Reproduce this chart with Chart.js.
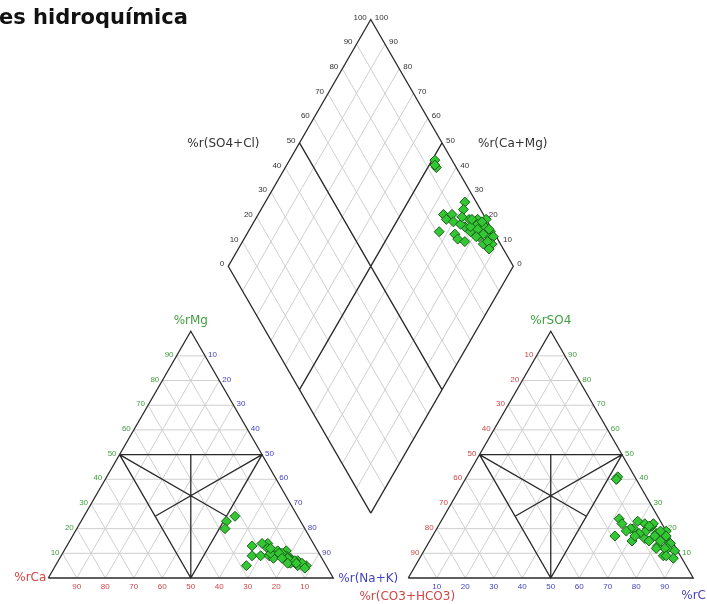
<!DOCTYPE html>
<html>
<head>
<meta charset="utf-8">
<script src="https://cdn.jsdelivr.net/npm/chart.js@4.4.0/dist/chart.umd.min.js"></script>
<style>
  html, body { margin: 0; padding: 0; background: #fff; overflow: hidden; }
  #wrap { position: relative; width: 707px; height: 604px; }
</style>
</head>
<body>
<div id="wrap"><canvas id="piper"></canvas></div>
<script>
/* ============================================================
   Diagrama de Piper — facies hidroquímica
   ============================================================ */

const TITLE = 'es hidroquímica';
const TICKS = [10, 20, 30, 40, 50, 60, 70, 80, 90];
const DIAMOND_TICKS = [0, 10, 20, 30, 40, 50, 60, 70, 80, 90, 100];

// one entry per sample, % of meq/L
const ca   = [16, 17, 22, 18, 24, 28, 21, 18, 14, 16, 11, 11, 12, 11, 9, 12, 9, 8, 10, 17, 13, 12, 13, 10, 7, 17, 12, 8, 14, 13, 8, 10, 14, 16, 22, 26, 28];
const mg   = [14, 12, 13, 14, 9, 5, 9, 9, 11, 9, 11, 8, 9, 7, 6, 6, 7, 5, 5, 8, 9, 8, 10, 7, 5, 10, 8, 6, 10, 6, 4, 6, 8, 12, 25, 23, 20];
const nak  = [70, 71, 65, 68, 67, 67, 70, 73, 75, 75, 78, 81, 79, 82, 85, 82, 84, 87, 85, 75, 78, 80, 77, 83, 88, 73, 80, 86, 76, 81, 88, 84, 78, 72, 53, 51, 52];
const hco3 = [4, 6, 14, 11, 14, 19, 12, 14, 9, 6, 3, 0, 4, 2, 1, 6, 3, 1, 6, 14, 8, 5, 7, 4, 3, 10, 2, 4, 5, 7, 5, 1, 12, 8, 7, 6, 7];
const so4  = [21, 22, 24, 20, 22, 17, 20, 19, 16, 20, 22, 19, 18, 16, 14, 13, 12, 11, 9, 15, 15, 17, 19, 15, 8, 18, 19, 12, 21, 12, 9, 17, 17, 23, 40, 41, 40];
const cl   = [75, 72, 62, 69, 64, 64, 68, 67, 75, 74, 75, 81, 78, 82, 85, 81, 85, 88, 85, 71, 77, 78, 74, 81, 89, 72, 79, 84, 74, 81, 86, 82, 71, 69, 53, 53, 53];

const COLORS = {
  green: '#3f9f3f',
  red:   '#d04545',
  blue:  '#4343c4',
  tick:  '#333',
  frame: '#2a2a2a',
  grid:  '#cfcfcf',
};

/* ── geometry (triangle side = 100 units) ── */
const SIN60 = Math.sqrt(3) / 2;
const GAP = 26.3;
const RIGHT_X0 = 100 + GAP;
const DIAMOND_BASE = { x: 100 + GAP / 2, y: GAP * SIN60 };

function cationXY(a, b, c) {
  const s = a + b + c;
  return { x: (c + b / 2) * 100 / s, y: b * SIN60 * 100 / s };
}
function anionXY(a, b, c) {
  const s = a + b + c;
  return { x: RIGHT_X0 + (c + b / 2) * 100 / s, y: b * SIN60 * 100 / s };
}
function diamondXY(caMg, so4Cl) {
  return {
    x: DIAMOND_BASE.x + (so4Cl - caMg) / 2,
    y: DIAMOND_BASE.y + (so4Cl + caMg) * SIN60
  };
}

const GAP_PT = { x: null, y: null };
function seg(list, ...pts) { list.push(...pts, GAP_PT); }

const gridPts = [], framePts = [];
TICKS.forEach(t => {
  const r = 100 - t;
  [cationXY, anionXY].forEach(f => {
    seg(gridPts, f(r, t, 0), f(0, t, r));
    seg(gridPts, f(t, r, 0), f(t, 0, r));
    seg(gridPts, f(r, 0, t), f(0, r, t));
  });
  seg(gridPts, diamondXY(t, 0), diamondXY(t, 100));
  seg(gridPts, diamondXY(0, t), diamondXY(100, t));
});

[cationXY, anionXY].forEach(f => {
  seg(framePts, f(100, 0, 0), f(0, 100, 0), f(0, 0, 100), f(100, 0, 0));
  seg(framePts, f(50, 50, 0), f(0, 50, 50), f(50, 0, 50), f(50, 50, 0));
  seg(framePts, f(50, 0, 50), f(25, 50, 25));
  seg(framePts, f(50, 50, 0), f(25, 25, 50));
  seg(framePts, f(0, 50, 50), f(50, 25, 25));
});
seg(framePts, diamondXY(0, 0), diamondXY(100, 0), diamondXY(100, 100), diamondXY(0, 100), diamondXY(0, 0));
seg(framePts, diamondXY(50, 0), diamondXY(50, 100));
seg(framePts, diamondXY(0, 50), diamondXY(100, 50));

const cationPts = ca.map((v, i) => cationXY(v, mg[i], nak[i]));
const anionPts = hco3.map((v, i) => anionXY(v, so4[i], cl[i]));
const diamondPts = ca.map((v, i) => diamondXY(v + mg[i], so4[i] + cl[i]));

/* ── text labels drawn in data space ── */
const labelsPlugin = {
  id: 'piperLabels',
  beforeDatasetsDraw(chart) {
    const { ctx, scales: { x, y } } = chart;
    const put = (str, p, dx, dy, align, color, font) => {
      ctx.fillStyle = color;
      ctx.font = font;
      ctx.textAlign = align;
      ctx.textBaseline = 'middle';
      ctx.fillText(str, x.getPixelForValue(p.x) + dx, y.getPixelForValue(p.y) + dy);
    };
    const tickFont = "8px 'Liberation Sans'";
    const axFont = "12px 'DejaVu Sans'";
    ctx.save();

    TICKS.forEach(t => {
      const r = 100 - t;
      // cations
      put(String(t), cationXY(r, t, 0), -3, -1, 'right', COLORS.green, tickFont);
      put(String(t), cationXY(0, r, t), 3, -1, 'left', COLORS.blue, tickFont);
      put(String(t), cationXY(t, 0, r), 0, 9, 'center', COLORS.red, tickFont);
      // anions
      put(String(t), anionXY(t, r, 0), -3, -1, 'right', COLORS.red, tickFont);
      put(String(t), anionXY(0, t, r), 3, -1, 'left', COLORS.green, tickFont);
      put(String(t), anionXY(r, 0, t), 0, 9, 'center', COLORS.blue, tickFont);
    });
    DIAMOND_TICKS.forEach(t => {
      put(String(t), diamondXY(100, t), -4, -2, 'right', COLORS.tick, tickFont);
      put(String(t), diamondXY(t, 100), 4, -2, 'left', COLORS.tick, tickFont);
    });

    put('%rMg', cationXY(0, 100, 0), 0, -10, 'center', COLORS.green, axFont);
    put('%rCa', cationXY(100, 0, 0), -2, 0, 'right', COLORS.red, axFont);
    put('%r(Na+K)', cationXY(0, 0, 100), 5, 1, 'left', COLORS.blue, axFont);
    put('%rSO4', anionXY(0, 100, 0), 0, -10, 'center', COLORS.green, axFont);
    put('%r(CO3+HCO3)', anionXY(100, 0, 0), -1, 19, 'center', COLORS.red, axFont);
    put('%rCl', anionXY(0, 0, 100), -12, 18, 'left', COLORS.blue, axFont);
    put('%r(SO4+Cl)', diamondXY(100, 50), -40, 1, 'right', COLORS.tick, axFont);
    put('%r(Ca+Mg)', diamondXY(50, 100), 36, 1, 'left', COLORS.tick, axFont);

    ctx.fillStyle = '#111';
    ctx.font = "bold 21px 'DejaVu Sans'";
    ctx.textAlign = 'left';
    ctx.textBaseline = 'alphabetic';
    ctx.fillText(TITLE, -1, 24);
    ctx.restore();
  }
};

/* ── pixel mapping: 2.85 px per unit, origin at the cation Ca corner ── */
const K = 2.85, X0 = 48.3, Y0 = 578, W = 707, H = 604;

function pointSet(label, data) {
  return {
    label, data,
    pointStyle: 'rectRot',
    pointRadius: 5,
    backgroundColor: '#33c833',
    borderColor: '#1d5e1d',
    borderWidth: 1,
    order: 0
  };
}

new Chart(document.getElementById('piper'), {
  type: 'scatter',
  data: {
    datasets: [
      pointSet('Cationes', cationPts),
      pointSet('Aniones', anionPts),
      pointSet('Rombo', diamondPts),
      {
        label: 'marco', data: framePts, showLine: true, spanGaps: false,
        borderColor: COLORS.frame, borderWidth: 1.3, pointRadius: 0, order: 1
      },
      {
        label: 'rejilla', data: gridPts, showLine: true, spanGaps: false,
        borderColor: COLORS.grid, borderWidth: 1, pointRadius: 0, order: 2
      }
    ]
  },
  options: {
    responsive: true,
    maintainAspectRatio: false,
    animation: false,
    layout: { padding: 0, autoPadding: false },
    plugins: {
      legend: { display: false },
      tooltip: { enabled: false }
    },
    scales: {
      x: { type: 'linear', display: false, min: -X0 / K, max: (W - X0) / K },
      y: { type: 'linear', display: false, min: -(H - Y0) / K, max: Y0 / K }
    }
  },
  plugins: [labelsPlugin]
});
</script>
</body>
</html>
